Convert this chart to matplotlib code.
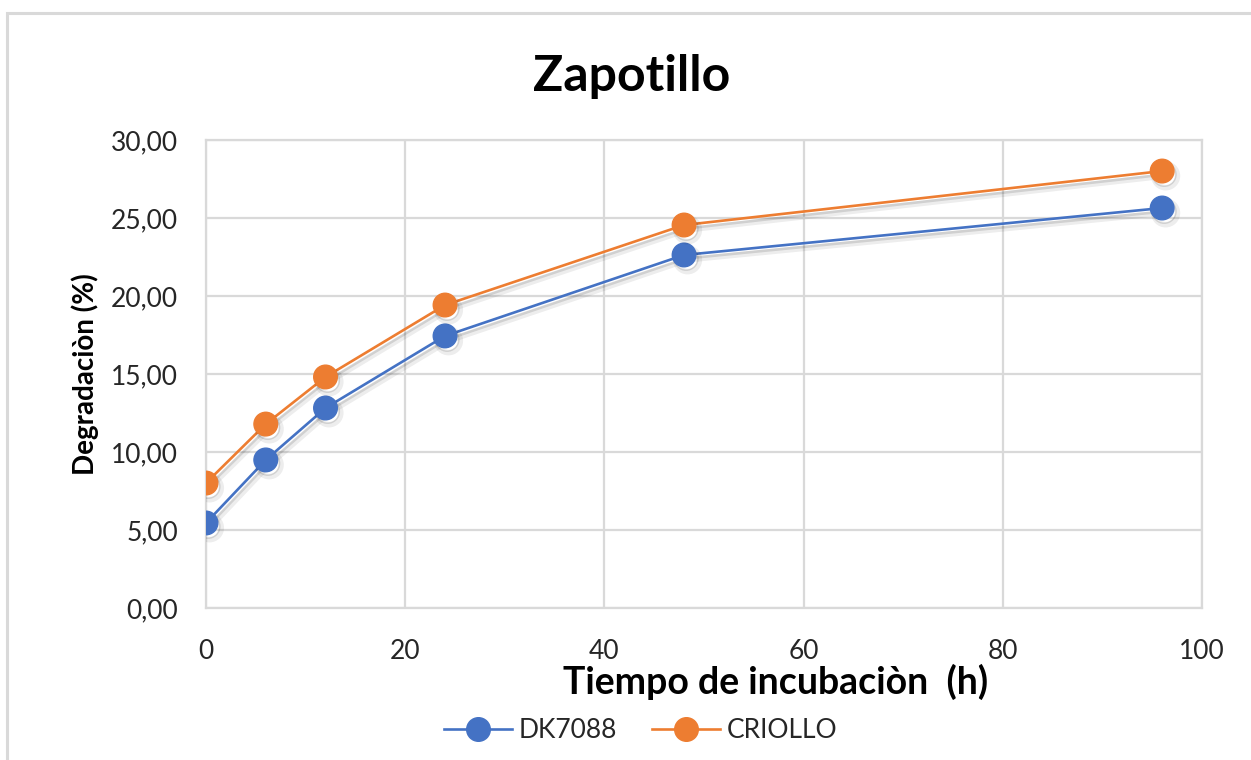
import numpy as np
import matplotlib.pyplot as plt
import matplotlib.patheffects as pe
from matplotlib.patches import Rectangle

plt.rcParams['font.family'] = ['Lato', 'DejaVu Sans']

# Tiempo de incubación (h) y degradación (%)
horas = [0, 6, 12, 24, 48, 96]
dk7088 = [5.45, 9.49, 12.82, 17.44, 22.63, 25.64]
criollo = [8.01, 11.79, 14.81, 19.42, 24.55, 28.01]

azul = '#4472C4'
naranja = '#ED7D31'
gris = '#D9D9D9'

fig = plt.figure(figsize=(12.51, 7.6), dpi=100)
ax = fig.add_axes([206/1251, 1 - 608/760, (1202 - 206)/1251, (608 - 140)/760])

# sombra suave debajo de líneas y marcadores
sombra = [pe.SimpleLineShadow(offset=(2.5, -3.5), shadow_color='#000000', alpha=0.07, linewidth=4),
          pe.SimpleLineShadow(offset=(1.5, -2.5), shadow_color='#000000', alpha=0.12),
          pe.Normal()]

for y, c, nombre in [(dk7088, azul, 'DK7088'), (criollo, naranja, 'CRIOLLO')]:
    ax.plot(horas, y, color=c, lw=1.9, marker='o', ms=17, mec=c, mfc=c,
            label=nombre, path_effects=sombra, zorder=3)

ax.set_xlim(0, 100)
ax.set_ylim(0, 30)
ax.set_xticks(np.arange(0, 101, 20))
ax.set_yticks(np.arange(0, 31, 5))
ax.set_yticklabels([f'{v:.2f}'.replace('.', ',') for v in np.arange(0, 31, 5)])
ax.grid(True, color=gris, lw=1.6)
ax.set_axisbelow(True)
for s in ax.spines.values():
    s.set_color(gris)
    s.set_linewidth(1.6)
ax.tick_params(length=0, labelsize=19, colors='#262626')
ax.tick_params(axis='y', pad=20)
ax.tick_params(axis='x', pad=22)

fig.text(0.505, 0.899, 'Zapotillo', ha='center', va='center', fontsize=36,
         fontweight='bold', color='black')
fig.text(0.62, 0.103, 'Tiempo de incubaciòn  (h)', ha='center', va='center',
         fontsize=27, fontweight='bold', color='black')
fig.text(0.068, 0.508, 'Degradaciòn (%)', ha='center', va='center', rotation=90,
         fontsize=20, fontweight='bold', color='black')

leg = fig.legend(loc='center', bbox_to_anchor=(0.512, 0.039), ncol=2, frameon=False,
                 fontsize=19, handlelength=2.6, columnspacing=1.3, handletextpad=0.25,
                 labelcolor='#262626')
for h in leg.legend_handles:
    h.set_path_effects([])

# marco del gráfico
fig.patches.append(Rectangle((7/1251, -0.1), 1.2, 1 - 13/760 + 0.1, transform=fig.transFigure,
                             fill=False, edgecolor=gris, lw=2.2))

fig.savefig('out.png', dpi=100)
